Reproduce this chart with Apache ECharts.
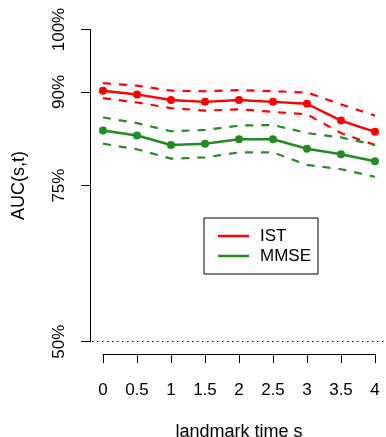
<!DOCTYPE html>
<html>
<head>
<meta charset="utf-8">
<script src="https://cdn.jsdelivr.net/npm/echarts@6/dist/echarts.min.js"></script>
<style>
html,body{margin:0;padding:0;background:#fff;}
#chart{width:386px;height:437px;}
</style>
</head>
<body>
<div id="chart"></div>
<script>
const landmarks = [0, 0.5, 1, 1.5, 2, 2.5, 3, 3.5, 4];
const istAUC   = [90.2, 89.6, 88.7, 88.4, 88.7, 88.4, 88.1, 85.4, 83.6];
const istUpper = [91.4, 91.0, 90.2, 90.1, 90.3, 90.1, 89.9, 88.0, 86.2];
const istLower = [89.0, 88.3, 87.4, 87.0, 87.2, 86.8, 86.4, 83.4, 81.5];
const mmseAUC   = [83.8, 83.0, 81.5, 81.7, 82.4, 82.4, 80.9, 80.0, 78.9];
const mmseUpper = [85.9, 85.0, 83.7, 83.9, 84.6, 84.7, 83.4, 82.7, 81.5];
const mmseLower = [81.7, 80.8, 79.3, 79.5, 80.3, 80.3, 78.3, 77.6, 76.4];
const yTicks = [50, 75, 90, 100];
const referenceLevel = 50;

const FONT = '"Liberation Sans", Arial, Helvetica, sans-serif';
const RED = '#FF0000';
const GREEN = '#228B22';
const pair = arr => arr.map((v, i) => [landmarks[i], v]);
const textStyle = {color: '#000', fontSize: 17, fontFamily: FONT};
const nameStyle = {color: '#000', fontSize: 18, fontFamily: FONT};

const chart = echarts.init(document.getElementById('chart'), null, {renderer: 'canvas'});
chart.setOption({
  animation: false,
  backgroundColor: '#fff',
  textStyle: {fontFamily: FONT},
  grid: [
    // data area; x axis at its bottom spans 0..4
    {left: 103, right: 11, top: 17, bottom: 83, containLabel: false, outerBoundsMode: 'none'},
    // frame for the y axis spanning 50%..100%
    {left: 90, right: 11, top: 29.5, bottom: 95.3, containLabel: false, outerBoundsMode: 'none'},
    // whole plot region for the reference line
    {left: 92, right: 0, top: 17, bottom: 83, containLabel: false, outerBoundsMode: 'none'}
  ],
  xAxis: [
    {
      type: 'value', gridIndex: 0, min: 0, max: 4, interval: 0.5,
      axisLine: {show: true, onZero: false, lineStyle: {color: '#000', width: 1}},
      axisTick: {show: true, length: 9, lineStyle: {color: '#000', width: 1}},
      splitLine: {show: false},
      axisLabel: Object.assign({margin: 28}, textStyle),
      name: 'landmark time s', nameLocation: 'middle', nameGap: 69,
      nameTextStyle: nameStyle
    },
    {type: 'value', gridIndex: 1, min: 0, max: 4, show: false},
    {type: 'value', gridIndex: 2, min: -0.16, max: 4.16, show: false}
  ],
  yAxis: [
    {type: 'value', gridIndex: 0, min: 48, max: 102, show: false},
    {
      type: 'value', gridIndex: 1, min: 50, max: 100, interval: 5,
      axisLine: {show: true, onZero: false, lineStyle: {color: '#000', width: 1}},
      axisTick: {show: true, length: 9, customValues: yTicks, lineStyle: {color: '#000', width: 1}},
      splitLine: {show: false},
      axisLabel: Object.assign({rotate: 90, margin: 22, customValues: yTicks,
                  formatter: v => v + '%'}, textStyle),
      name: 'AUC(s,t)', nameLocation: 'middle', nameGap: 62,
      nameTextStyle: nameStyle
    },
    {type: 'value', gridIndex: 2, min: 48, max: 102, show: false}
  ],
  legend: {
    data: ['IST', 'MMSE'],
    orient: 'vertical',
    left: 204, top: 218,
    padding: [8, 7, 8, 14],
    itemGap: 0,
    itemWidth: 31, itemHeight: 2.5,
    icon: 'rect',
    borderColor: '#000', borderWidth: 1,
    backgroundColor: '#fff',
    textStyle: Object.assign({lineHeight: 20, padding: [0, 0, 0, 6]}, textStyle)
  },
  series: [
    {
      name: 'ref', type: 'line', xAxisIndex: 2, yAxisIndex: 2, data: [],
      silent: true,
      markLine: {
        silent: true, symbol: 'none', label: {show: false},
        lineStyle: {color: '#000', type: [1.5, 3.5], width: 1},
        data: [{yAxis: referenceLevel}]
      }
    },
    {name: 'IST', type: 'line', data: pair(istAUC),
     lineStyle: {color: RED, width: 2.5}, itemStyle: {color: RED},
     symbol: 'circle', symbolSize: 8, z: 5},
    {name: 'IST upper', type: 'line', data: pair(istUpper),
     lineStyle: {color: RED, width: 2.2, type: [8, 8]}, symbol: 'none'},
    {name: 'IST lower', type: 'line', data: pair(istLower),
     lineStyle: {color: RED, width: 2.2, type: [8, 8]}, symbol: 'none'},
    {name: 'MMSE', type: 'line', data: pair(mmseAUC),
     lineStyle: {color: GREEN, width: 2.5}, itemStyle: {color: GREEN},
     symbol: 'circle', symbolSize: 8, z: 5},
    {name: 'MMSE upper', type: 'line', data: pair(mmseUpper),
     lineStyle: {color: GREEN, width: 2.2, type: [8, 8]}, symbol: 'none'},
    {name: 'MMSE lower', type: 'line', data: pair(mmseLower),
     lineStyle: {color: GREEN, width: 2.2, type: [8, 8]}, symbol: 'none'}
  ]
});
</script>
</body>
</html>
